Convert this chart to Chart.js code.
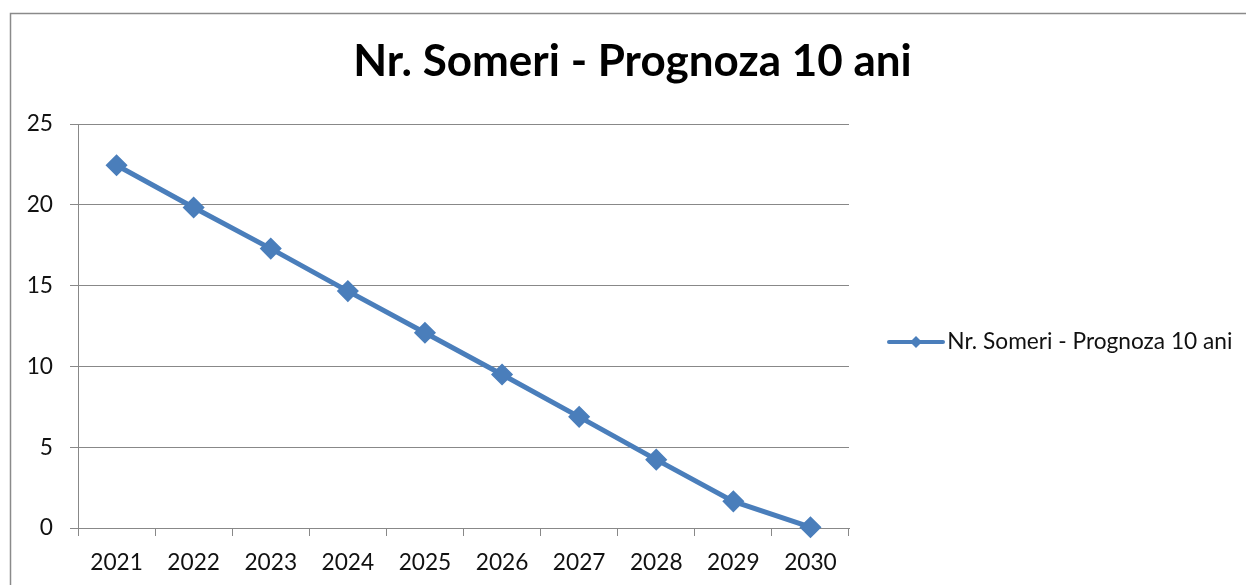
<!DOCTYPE html>
<html>
<head>
<meta charset="utf-8">
<title>Nr. Someri - Prognoza 10 ani</title>
<script src="https://cdn.jsdelivr.net/npm/chart.js@4/dist/chart.umd.min.js"></script>
<style>
  html, body { margin: 0; padding: 0; background: #ffffff; }
  #wrap { width: 1246px; height: 585px; position: relative; }
  canvas { display: block; }
</style>
</head>
<body>
<div id="wrap"><canvas id="chart" width="1246" height="585"></canvas></div>
<script>
// Forecast of the number of unemployed over ten years
const chartTitle = 'Nr. Someri - Prognoza 10 ani';
const seriesName = 'Nr. Someri - Prognoza 10 ani';
const years = ['2021', '2022', '2023', '2024', '2025', '2026', '2027', '2028', '2029', '2030'];
const someri = [22.45, 19.83, 17.29, 14.66, 12.08, 9.50, 6.88, 4.23, 1.65, 0.05];
const yMin = 0;
const yMax = 25;
const yStep = 5;

const BLUE = '#4A7EBB';
const GRID = '#888888';
const TEXT = '#111111';
const FONT = 'Lato, "Open Sans", sans-serif';

// Legend glyph: a short line with a small diamond in the middle
function legendGlyph() {
  const c = document.createElement('canvas');
  c.width = 58; c.height = 14;
  const g = c.getContext('2d');
  g.strokeStyle = BLUE;
  g.lineWidth = 4;
  g.lineCap = 'round';
  g.beginPath();
  g.moveTo(2, 7); g.lineTo(56, 7);
  g.stroke();
  g.fillStyle = BLUE;
  g.beginPath();
  g.moveTo(29 - 6, 7); g.lineTo(29, 1); g.lineTo(29 + 6, 7); g.lineTo(29, 13);
  g.closePath();
  g.fill();
  return c;
}

// Grey frame around the whole chart
const framePlugin = {
  id: 'frame',
  beforeDraw(chart) {
    const ctx = chart.ctx;
    ctx.save();
    ctx.fillStyle = '#ffffff';
    ctx.fillRect(0, 0, chart.width, chart.height);
    ctx.strokeStyle = '#8a8a8a';
    ctx.lineWidth = 1.5;
    ctx.beginPath();
    ctx.moveTo(10.5, chart.height + 5);
    ctx.lineTo(10.5, 13.5);
    ctx.lineTo(chart.width + 5, 13.5);
    ctx.stroke();
    ctx.restore();
  }
};

// Place the legend entry to the right of the plot, centred on the chart box
const LEGEND_PAD = 80;
const legendPlacePlugin = {
  id: 'legendPlace',
  afterLayout(chart) {
    const lg = chart.legend;
    if (!lg) return;
    const w = lg.right - lg.left;
    lg.left = 896 - LEGEND_PAD;
    lg.right = lg.left + Math.max(w, 1246 - lg.left);
    lg.width = lg.right - lg.left;
    const h = lg.bottom - lg.top;
    const centre = 342;
    lg.top = centre - h / 2;
    lg.bottom = centre + h / 2;
  }
};

function build() {
  new Chart(document.getElementById('chart'), {
    type: 'line',
    data: {
      labels: years,
      datasets: [{
        label: seriesName,
        data: someri,
        borderColor: BLUE,
        backgroundColor: BLUE,
        borderWidth: 5,
        tension: 0,
        fill: false,
        clip: false,
        pointStyle: 'rectRot',
        pointRadius: 10,
        pointHoverRadius: 10,
        pointBackgroundColor: BLUE,
        pointBorderColor: BLUE,
        pointBorderWidth: 1.5
      }]
    },
    options: {
      responsive: false,
      animation: false,
      devicePixelRatio: 1,
      layout: { padding: { left: 19, right: 0, top: 0, bottom: 0 } },
      plugins: {
        title: {
          display: true,
          text: chartTitle,
          color: '#000000',
          font: { family: FONT, size: 44, weight: 'bold', lineHeight: 1.2 },
          padding: { top: 35.6, bottom: 35.6 }
        },
        legend: {
          display: true,
          position: 'right',
          align: 'center',
          maxWidth: 397,
          labels: {
            color: TEXT,
            font: { family: FONT, size: 22.7 },
            padding: LEGEND_PAD,
            usePointStyle: true,
            pointStyle: legendGlyph(),
            pointStyleWidth: 40
          }
        },
        tooltip: { enabled: false }
      },
      scales: {
        x: {
          type: 'category',
          offset: true,
          grid: {
            offset: true,
            drawOnChartArea: false,
            drawTicks: true,
            tickLength: 8,
            color: GRID,
            lineWidth: 1
          },
          border: { display: true, color: GRID, width: 1 },
          ticks: {
            color: TEXT,
            font: { family: FONT, size: 22.7 },
            padding: 13,
            maxRotation: 0,
            autoSkip: false
          },
          afterFit(scale) { scale.height = 57; }
        },
        y: {
          min: yMin,
          max: yMax,
          grid: {
            color: GRID,
            lineWidth: 1,
            drawTicks: true,
            tickLength: 8
          },
          border: { display: true, color: GRID, width: 1 },
          ticks: {
            stepSize: yStep,
            color: TEXT,
            font: { family: FONT, size: 22.7 },
            padding: 17
          },
          afterFit(scale) { scale.width = 78 - 19; }
        }
      }
    },
    plugins: [framePlugin, legendPlacePlugin]
  });
}

const fontsReady = document.fonts
  ? Promise.all([
      document.fonts.load('22px Lato'),
      document.fonts.load('bold 44px Lato')
    ]).catch(() => null)
  : Promise.resolve();
fontsReady.then(build, build);
</script>
</body>
</html>
